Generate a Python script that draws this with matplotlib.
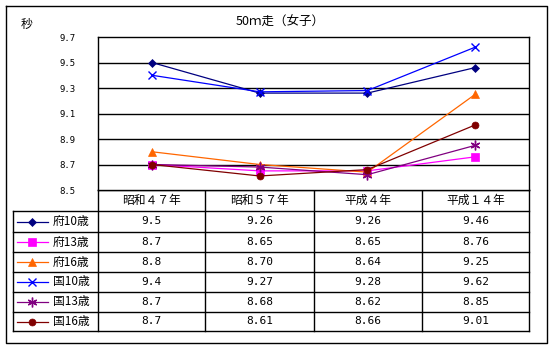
import matplotlib.pyplot as plt
import numpy as np

plt.rcParams['font.family'] = ['Noto Sans CJK JP', 'DejaVu Sans']

# data
years = ['昭和４７年', '昭和５７年', '平成４年', '平成１４年']
names = ['府10歳', '府13歳', '府16歳', '国10歳', '国13歳', '国16歳']
fu10 = [9.5, 9.26, 9.26, 9.46]
fu13 = [8.7, 8.65, 8.65, 8.76]
fu16 = [8.8, 8.70, 8.64, 9.25]
kuni10 = [9.4, 9.27, 9.28, 9.62]
kuni13 = [8.7, 8.68, 8.62, 8.85]
kuni16 = [8.7, 8.61, 8.66, 9.01]
labels = [['9.5', '9.26', '9.26', '9.46'],
          ['8.7', '8.65', '8.65', '8.76'],
          ['8.8', '8.70', '8.64', '9.25'],
          ['9.4', '9.27', '9.28', '9.62'],
          ['8.7', '8.68', '8.62', '8.85'],
          ['8.7', '8.61', '8.66', '9.01']]
series = [fu10, fu13, fu16, kuni10, kuni13, kuni16]

colors = ['#000080', '#FF00FF', '#FF6600', '#0000FF', '#800080', '#800000']
markers = ['D', 's', '^', 'x', (6, 2, 0), 'o']
msizes = [4.5, 5.5, 5.5, 6, 7, 5]


def edge(m):
    return 1 if m == 'x' or isinstance(m, tuple) else 0.5


W, H = 555, 350
fig = plt.figure(figsize=(W / 100, H / 100), dpi=100)

# overlay in pixel coords
ov = fig.add_axes([0, 0, 1, 1])
ov.set_xlim(0, W)
ov.set_ylim(H, 0)
ov.axis('off')

# chart area in pixels
x0, x1, y0, y1 = 98, 529, 37, 190
ax = fig.add_axes([x0 / W, 1 - y1 / H, (x1 - x0) / W, (y1 - y0) / H])
ax.set_xlim(0, 4)
ax.set_ylim(8.5, 9.7)
xs = np.arange(4) + 0.5
for s, c, m, ms in zip(series, colors, markers, msizes):
    ax.plot(xs, s, color=c, marker=m, markersize=ms, lw=0.9,
            markeredgewidth=edge(m), clip_on=False)
for v in np.arange(8.7, 9.6, 0.2):
    ax.axhline(v, color='black', lw=1, zorder=0)
ax.set_xticks([])
ax.set_yticks(np.arange(8.5, 9.71, 0.2))
ax.set_yticklabels(['%.1f' % v for v in np.arange(8.5, 9.71, 0.2)],
                   fontsize=6.5, family='DejaVu Sans Mono')
ax.tick_params(axis='y', length=0, pad=16)
for sp in ax.spines.values():
    sp.set_linewidth(1)

# outer border
ov.plot([6, 547, 547, 6, 6], [6, 6, 343, 343, 6], color='black', lw=1)
ov.text(27, 24, '秒', fontsize=8.5, ha='center', va='center')
ov.text(280, 22, '50ｍ走（女子）', fontsize=9, ha='center', va='center')

# table
lx0 = 13
rows_y = [190, 211, 232, 252, 272, 292, 312, 331]
col_x = [98, 205, 314, 422, 529]
lw = 1
ov.plot([x0, x1], [190, 190], color='black', lw=lw)
for yy in rows_y[1:]:
    ov.plot([lx0, x1], [yy, yy], color='black', lw=lw)
for xx in col_x:
    ov.plot([xx, xx], [190, rows_y[-1]], color='black', lw=lw)
ov.plot([lx0, lx0], [rows_y[1], rows_y[-1]], color='black', lw=lw)
for j, yr in enumerate(years):
    ov.text((col_x[j] + col_x[j + 1]) / 2, (rows_y[0] + rows_y[1]) / 2, yr,
            fontsize=8.5, ha='center', va='center')
for i, name in enumerate(names):
    yc = (rows_y[i + 1] + rows_y[i + 2]) / 2
    ov.plot([17, 48], [yc, yc], color=colors[i], lw=0.9)
    ov.plot([32], [yc], color=colors[i], marker=markers[i], markersize=msizes[i],
            markeredgewidth=edge(markers[i]))
    ov.text(53, yc, name, fontsize=8.5, ha='left', va='center')
    for j in range(4):
        ov.text((col_x[j] + col_x[j + 1]) / 2, yc, labels[i][j], fontsize=8,
                ha='center', va='center', family='DejaVu Sans Mono')

fig.savefig('out.png', dpi=100)
